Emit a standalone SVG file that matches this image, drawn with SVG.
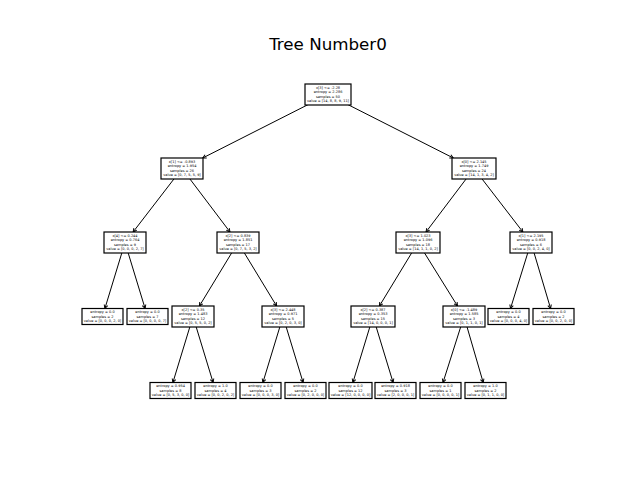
<svg xmlns="http://www.w3.org/2000/svg" width="640" height="480" viewBox="0 0 640 480">
<defs>
<marker id="ah" markerUnits="userSpaceOnUse" markerWidth="8" markerHeight="8" viewBox="-5 -4 6 8" refX="0" refY="0" orient="auto">
<path d="M-3.6,-1.8 L0,0 L-3.6,1.8" fill="none" stroke="#000" stroke-width="1"/>
</marker>
<style>
.bg{fill:#fff}
.box{fill:#fff;stroke:#000;stroke-width:1.2}
.t{font-family:"DejaVu Sans",sans-serif;font-size:3.5px;text-anchor:middle;fill:#000}
.title{font-family:"DejaVu Sans",sans-serif;font-size:16.7px;text-anchor:middle;fill:#000}
.e{stroke:#000;stroke-width:1;fill:none;marker-end:url(#ah)}
</style>
</defs>
<rect class="bg" x="0" y="0" width="640" height="480"/>
<text class="title" x="328" y="50">Tree Number0</text>
<g id="connectors">
<line class="e" x1="328" y1="94.5" x2="202.7" y2="158"/>
<line class="e" x1="328" y1="94.5" x2="453.3" y2="158"/>
<line class="e" x1="182" y1="168.5" x2="133.1" y2="232"/>
<line class="e" x1="182" y1="168.5" x2="230" y2="232"/>
<line class="e" x1="474" y1="168.5" x2="426" y2="232"/>
<line class="e" x1="474" y1="168.5" x2="522.9" y2="232"/>
<line class="e" x1="125" y1="242.5" x2="104.9" y2="308.5"/>
<line class="e" x1="125" y1="242.5" x2="145.1" y2="308.5"/>
<line class="e" x1="238" y1="242.5" x2="199.4" y2="306"/>
<line class="e" x1="238" y1="242.5" x2="276.6" y2="306"/>
<line class="e" x1="418" y1="242.5" x2="379.4" y2="306"/>
<line class="e" x1="418" y1="242.5" x2="457.5" y2="306"/>
<line class="e" x1="531" y1="242.5" x2="510.5" y2="308.5"/>
<line class="e" x1="531" y1="242.5" x2="550.6" y2="308.5"/>
<line class="e" x1="193" y1="316.5" x2="172.9" y2="382.5"/>
<line class="e" x1="193" y1="316.5" x2="213.1" y2="382.5"/>
<line class="e" x1="283" y1="316.5" x2="262.9" y2="382.5"/>
<line class="e" x1="283" y1="316.5" x2="303.1" y2="382.5"/>
<line class="e" x1="373" y1="316.5" x2="352.9" y2="382.5"/>
<line class="e" x1="373" y1="316.5" x2="393.1" y2="382.5"/>
<line class="e" x1="464" y1="316.5" x2="443" y2="382.5"/>
<line class="e" x1="464" y1="316.5" x2="483.2" y2="382.5"/>
</g>
<g id="n0"><rect class="box" x="305" y="84" width="46" height="21"/><text class="t"><tspan x="328" y="88.6">x[3] &lt;= -2.28</tspan><tspan x="328" y="93.2">entropy = 2.286</tspan><tspan x="328" y="97.8">samples = 50</tspan><tspan x="328" y="102.4">value = [14, 8, 8, 9, 11]</tspan></text></g>
<g id="n1"><rect class="box" x="161" y="158" width="42" height="21"/><text class="t"><tspan x="182" y="162.6">x[1] &lt;= -0.893</tspan><tspan x="182" y="167.2">entropy = 1.954</tspan><tspan x="182" y="171.8">samples = 26</tspan><tspan x="182" y="176.4">value = [0, 7, 5, 5, 9]</tspan></text></g>
<g id="n2"><rect class="box" x="452" y="158" width="44" height="21"/><text class="t"><tspan x="474" y="162.6">x[0] &lt;= 2.145</tspan><tspan x="474" y="167.2">entropy = 1.749</tspan><tspan x="474" y="171.8">samples = 24</tspan><tspan x="474" y="176.4">value = [14, 1, 3, 4, 2]</tspan></text></g>
<g id="n3"><rect class="box" x="104" y="232" width="42" height="21"/><text class="t"><tspan x="125" y="236.6">x[4] &lt;= 0.244</tspan><tspan x="125" y="241.2">entropy = 0.764</tspan><tspan x="125" y="245.8">samples = 9</tspan><tspan x="125" y="250.4">value = [0, 0, 0, 2, 7]</tspan></text></g>
<g id="n4"><rect class="box" x="217" y="232" width="42" height="21"/><text class="t"><tspan x="238" y="236.6">x[2] &lt;= 0.839</tspan><tspan x="238" y="241.2">entropy = 1.851</tspan><tspan x="238" y="245.8">samples = 17</tspan><tspan x="238" y="250.4">value = [0, 7, 5, 3, 2]</tspan></text></g>
<g id="n5"><rect class="box" x="396" y="232" width="44" height="21"/><text class="t"><tspan x="418" y="236.6">x[3] &lt;= 1.023</tspan><tspan x="418" y="241.2">entropy = 1.096</tspan><tspan x="418" y="245.8">samples = 18</tspan><tspan x="418" y="250.4">value = [14, 1, 1, 0, 2]</tspan></text></g>
<g id="n6"><rect class="box" x="510" y="232" width="42" height="21"/><text class="t"><tspan x="531" y="236.6">x[1] &lt;= 2.195</tspan><tspan x="531" y="241.2">entropy = 0.918</tspan><tspan x="531" y="245.8">samples = 6</tspan><tspan x="531" y="250.4">value = [0, 0, 2, 4, 0]</tspan></text></g>
<g id="n7"><rect class="box" x="82" y="308.5" width="41" height="16"/><text class="t"><tspan x="102.5" y="313">entropy = 0.0</tspan><tspan x="102.5" y="317.6">samples = 2</tspan><tspan x="102.5" y="322.2">value = [0, 0, 0, 2, 0]</tspan></text></g>
<g id="n8"><rect class="box" x="127" y="308.5" width="41" height="16"/><text class="t"><tspan x="147.5" y="313">entropy = 0.0</tspan><tspan x="147.5" y="317.6">samples = 7</tspan><tspan x="147.5" y="322.2">value = [0, 0, 0, 0, 7]</tspan></text></g>
<g id="n9"><rect class="box" x="172" y="306" width="42" height="21"/><text class="t"><tspan x="193" y="310.6">x[2] &lt;= 0.35</tspan><tspan x="193" y="315.2">entropy = 1.483</tspan><tspan x="193" y="319.8">samples = 12</tspan><tspan x="193" y="324.4">value = [0, 5, 5, 0, 2]</tspan></text></g>
<g id="n10"><rect class="box" x="262" y="306" width="42" height="21"/><text class="t"><tspan x="283" y="310.6">x[3] &lt;= 2.448</tspan><tspan x="283" y="315.2">entropy = 0.971</tspan><tspan x="283" y="319.8">samples = 5</tspan><tspan x="283" y="324.4">value = [0, 2, 0, 3, 0]</tspan></text></g>
<g id="n11"><rect class="box" x="351" y="306" width="44" height="21"/><text class="t"><tspan x="373" y="310.6">x[2] &lt;= 0.387</tspan><tspan x="373" y="315.2">entropy = 0.353</tspan><tspan x="373" y="319.8">samples = 15</tspan><tspan x="373" y="324.4">value = [14, 0, 0, 0, 1]</tspan></text></g>
<g id="n12"><rect class="box" x="443" y="306" width="42" height="21"/><text class="t"><tspan x="464" y="310.6">x[0] &lt;= -1.489</tspan><tspan x="464" y="315.2">entropy = 1.585</tspan><tspan x="464" y="319.8">samples = 3</tspan><tspan x="464" y="324.4">value = [0, 1, 1, 0, 1]</tspan></text></g>
<g id="n13"><rect class="box" x="488" y="308.5" width="41" height="16"/><text class="t"><tspan x="508.5" y="313">entropy = 0.0</tspan><tspan x="508.5" y="317.6">samples = 4</tspan><tspan x="508.5" y="322.2">value = [0, 0, 0, 4, 0]</tspan></text></g>
<g id="n14"><rect class="box" x="533" y="308.5" width="41" height="16"/><text class="t"><tspan x="553.5" y="313">entropy = 0.0</tspan><tspan x="553.5" y="317.6">samples = 2</tspan><tspan x="553.5" y="322.2">value = [0, 0, 2, 0, 0]</tspan></text></g>
<g id="n15"><rect class="box" x="150" y="382.5" width="41" height="16"/><text class="t"><tspan x="170.5" y="387">entropy = 0.954</tspan><tspan x="170.5" y="391.6">samples = 8</tspan><tspan x="170.5" y="396.2">value = [0, 5, 3, 0, 0]</tspan></text></g>
<g id="n16"><rect class="box" x="195" y="382.5" width="41" height="16"/><text class="t"><tspan x="215.5" y="387">entropy = 1.0</tspan><tspan x="215.5" y="391.6">samples = 4</tspan><tspan x="215.5" y="396.2">value = [0, 0, 2, 0, 2]</tspan></text></g>
<g id="n17"><rect class="box" x="240" y="382.5" width="41" height="16"/><text class="t"><tspan x="260.5" y="387">entropy = 0.0</tspan><tspan x="260.5" y="391.6">samples = 3</tspan><tspan x="260.5" y="396.2">value = [0, 0, 0, 3, 0]</tspan></text></g>
<g id="n18"><rect class="box" x="285" y="382.5" width="41" height="16"/><text class="t"><tspan x="305.5" y="387">entropy = 0.0</tspan><tspan x="305.5" y="391.6">samples = 2</tspan><tspan x="305.5" y="396.2">value = [0, 2, 0, 0, 0]</tspan></text></g>
<g id="n19"><rect class="box" x="329" y="382.5" width="43" height="16"/><text class="t"><tspan x="350.5" y="387">entropy = 0.0</tspan><tspan x="350.5" y="391.6">samples = 12</tspan><tspan x="350.5" y="396.2">value = [12, 0, 0, 0, 0]</tspan></text></g>
<g id="n20"><rect class="box" x="375" y="382.5" width="41" height="16"/><text class="t"><tspan x="395.5" y="387">entropy = 0.918</tspan><tspan x="395.5" y="391.6">samples = 3</tspan><tspan x="395.5" y="396.2">value = [2, 0, 0, 0, 1]</tspan></text></g>
<g id="n21"><rect class="box" x="420" y="382.5" width="41" height="16"/><text class="t"><tspan x="440.5" y="387">entropy = 0.0</tspan><tspan x="440.5" y="391.6">samples = 1</tspan><tspan x="440.5" y="396.2">value = [0, 0, 0, 0, 1]</tspan></text></g>
<g id="n22"><rect class="box" x="465" y="382.5" width="41" height="16"/><text class="t"><tspan x="485.5" y="387">entropy = 1.0</tspan><tspan x="485.5" y="391.6">samples = 2</tspan><tspan x="485.5" y="396.2">value = [0, 1, 1, 0, 0]</tspan></text></g>
</svg>
